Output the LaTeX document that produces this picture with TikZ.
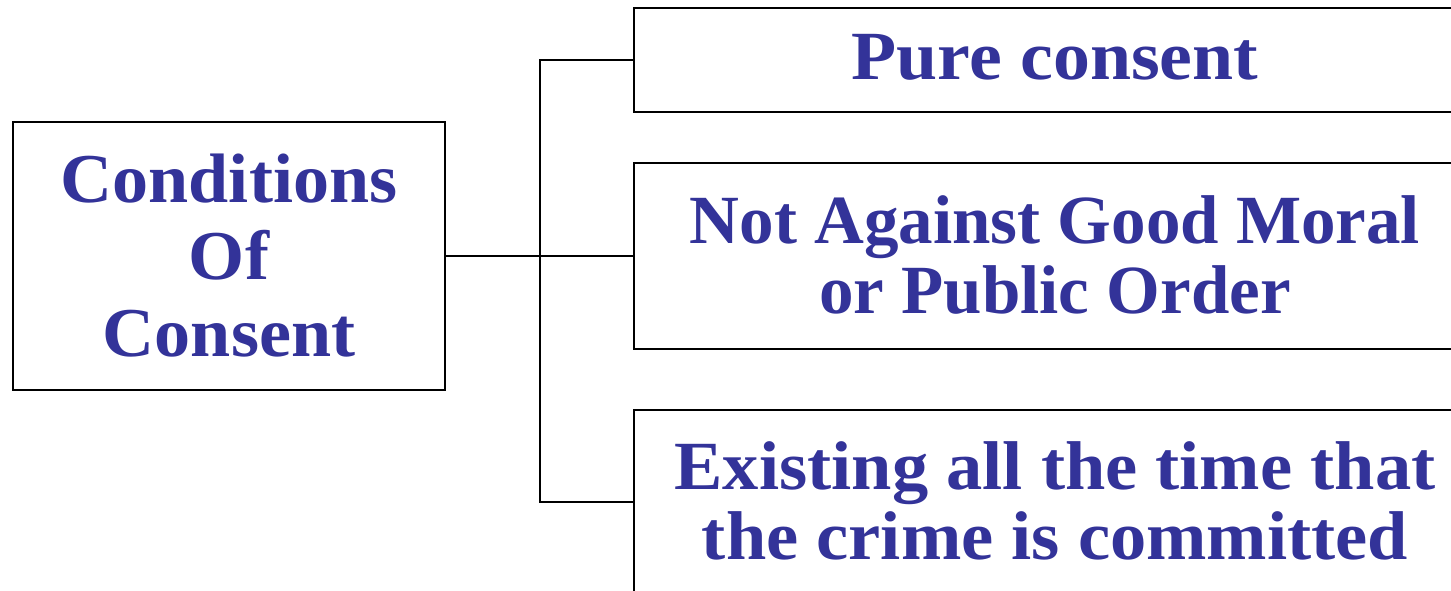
\documentclass[tikz,border=0pt]{standalone}
\usepackage{fontspec}
\usepackage{graphicx}
\setmainfont{Liberation Serif}
\definecolor{txtblue}{RGB}{51,51,153}
\newcommand\hsc[2]{\scalebox{#1}[1]{#2}}
\begin{document}
\begin{tikzpicture}[x=1pt,y=-1pt,
  leftbox/.style={draw=black,line width=2.6pt,inner sep=0pt,minimum width=432pt,minimum height=268pt,
    align=center,text=txtblue,font=\bfseries\fontsize{70}{77}\selectfont},
  rightbox/.style={draw=black,line width=1.3pt,inner sep=0pt,minimum width=842pt,
    align=center,text=txtblue,font=\bfseries\fontsize{69}{70}\selectfont},
  conn/.style={line width=2pt,draw=black}]
\useasboundingbox (0,0) rectangle (1451,590);
\clip (0,0) rectangle (1451,590);
\node[leftbox] (L) at (229,256) {\hsc{1.03}{Conditions}\\\hsc{1.03}{Of}\\\hsc{1.03}{Consent}};
\node[rightbox,minimum height=104pt] (B1) at (1055,60) {\raisebox{6pt}{\hsc{1.07}{Pure consent}}};
\node[rightbox,minimum height=186pt] (B2) at (1055,256) {\raisebox{2pt}{Not Against Good Moral}\\\raisebox{2pt}{or Public Order}};
\node[rightbox,minimum height=184pt] (B3) at (1055,502) {\raisebox{3pt}{\hsc{1.05}{Existing all the time that}}\\\raisebox{3pt}{\hsc{1.05}{the crime is committed}}};
\coordinate (j) at (540,256);
\draw[conn] (L.east) -- (j);
\draw[conn] (B1.west) -| (j) |- (B3.west);
\draw[conn] (j) -- (B2.west);
\end{tikzpicture}
\end{document}
